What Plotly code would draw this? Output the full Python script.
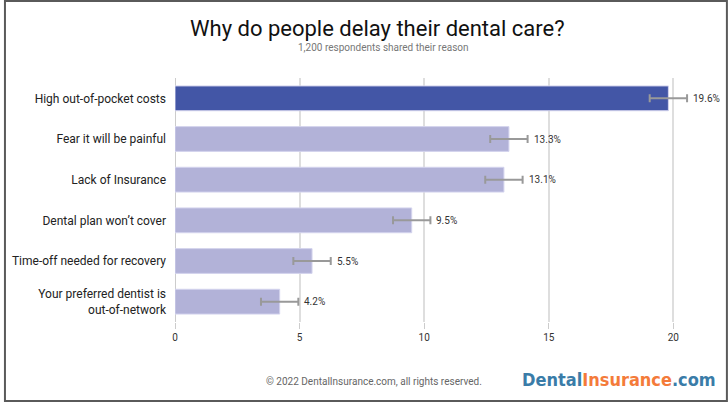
import plotly.graph_objects as go

categories = ["High out-of-pocket costs", "Fear it will be painful", "Lack of Insurance",
              "Dental plan won’t cover", "Time-off needed for recovery",
              "Your preferred dentist is<br>out-of-network"]
values = [19.8, 13.4, 13.2, 9.5, 5.5, 4.2]
errors = [0.75, 0.75, 0.75, 0.75, 0.75, 0.75]
labels = ["19.6%", "13.3%", "13.1%", "9.5%", "5.5%", "4.2%"]
colors = ["#4356a6", "#b2b2d8", "#b2b2d8", "#b2b2d8", "#b2b2d8", "#b2b2d8"]

W, H = 728, 402
ML, MR, MT, MB = 172, 18, 78, 80
pw = W - ML - MR
ph = H - MT - MB

fig = go.Figure()
fig.add_trace(go.Bar(
    y=categories, x=values, orientation="h",
    marker=dict(color=colors, line=dict(color="#d4d4ee", width=1)),
    width=0.61,
    error_x=dict(type="data", array=errors, color="#999999", thickness=2, width=4),
    hoverinfo="skip",
))

for cat, v, e, lab in zip(categories, values, errors, labels):
    fig.add_annotation(x=v + e, y=cat, text=lab, showarrow=False,
                       xanchor="left", yanchor="middle", xshift=4,
                       font=dict(family="Roboto", size=10, color="#333333"))

fig.update_layout(
    width=W, height=H,
    margin=dict(l=ML, r=MR, t=MT, b=MB),
    paper_bgcolor="white", plot_bgcolor="white",
    showlegend=False,
    bargap=0.39,
    font=dict(family="Roboto", color="#222222"),
    xaxis=dict(range=[0, 21.47], tickvals=[0, 5, 10, 15, 20],
               showgrid=True, gridcolor="#dedede", gridwidth=2,
               zeroline=True, zerolinecolor="#cccccc", zerolinewidth=1,
               ticks="outside", ticklen=6, tickcolor="#cccccc", tickwidth=1,
               tickfont=dict(size=10, color="#333333"), fixedrange=True),
    yaxis=dict(autorange="reversed", showgrid=False, ticks="", ticklabelstandoff=8,
               tickfont=dict(size=12, color="#222222"), fixedrange=True),
)

def px_x(x):
    return (x - ML) / pw

def px_y(y):
    return (H - MB - y) / ph

fig.add_annotation(x=px_x(376), y=px_y(28), xref="paper", yref="paper",
                   text="Why do people delay their dental care?", showarrow=False,
                   font=dict(family="Roboto", size=22, color="#111111"),
                   xanchor="center", yanchor="middle")
fig.add_annotation(x=px_x(382), y=px_y(47), xref="paper", yref="paper",
                   text="1,200 respondents shared their reason", showarrow=False,
                   font=dict(family="Roboto", size=10, color="#777777"),
                   xanchor="center", yanchor="middle")
fig.add_annotation(x=px_x(372), y=px_y(381), xref="paper", yref="paper",
                   text="© 2022 DentalInsurance.com, all rights reserved.", showarrow=False,
                   font=dict(family="Roboto", size=10, color="#666666"),
                   xanchor="center", yanchor="middle")
fig.add_annotation(x=px_x(718), y=px_y(379), xref="paper", yref="paper",
                   text="<b><span style='color:#3a7ca8'>Dental</span><span style='color:#f47b3a'>Insurance</span><span style='color:#3a7ca8'>.com</span></b>",
                   showarrow=False,
                   font=dict(family="DejaVu Sans Condensed, Roboto", size=18),
                   xanchor="right", yanchor="middle")

fig.add_shape(type="rect", xref="paper", yref="paper",
              x0=px_x(1), x1=px_x(W - 1), y0=px_y(H - 1), y1=px_y(1),
              line=dict(color="#5a5a5a", width=2), layer="above")

fig.write_html("out.html")
